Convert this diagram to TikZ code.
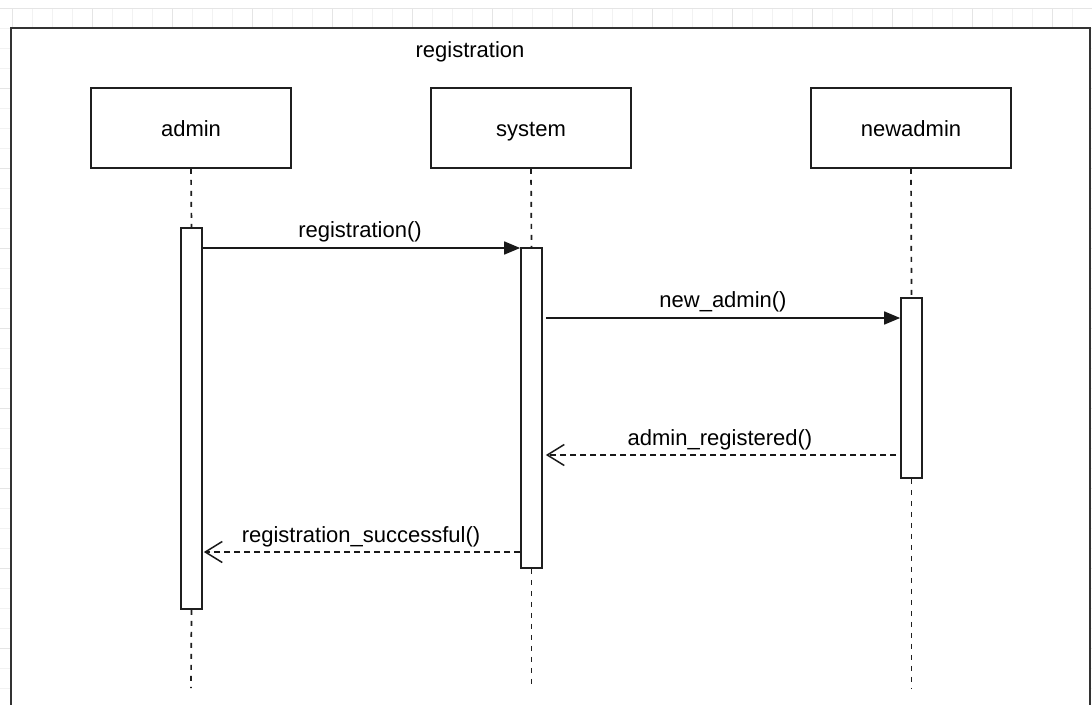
\documentclass[tikz,border=0pt]{standalone}
\usepackage{fontspec}
\setmainfont{Liberation Sans}
\usetikzlibrary{arrows.meta}
\begin{document}
\begin{tikzpicture}[x=1pt,y=-1pt,
  lifebox/.style={draw=black!88,line width=1.8pt,fill=white,minimum width=200pt,minimum height=80pt,inner sep=0pt,text height=19pt,text depth=3pt,font=\fontsize{22}{26}\selectfont},
  actbar/.style={draw=black!88,line width=1.7pt,fill=white,minimum width=21pt,inner sep=0pt},
  lifeline/.style={draw=black!88,line width=1.7pt,dash pattern=on 5pt off 6pt},
  callmsg/.style={draw=black!90,line width=1.6pt,-{Triangle[length=16pt,width=13pt]}},
  retmsg/.style={draw=black!90,line width=1.5pt,dash pattern=on 6pt off 4pt,-{Straight Barb[length=17pt,width=21pt,line width=1.5pt]}},
  msglabel/.style={anchor=base,inner sep=0pt,font=\fontsize{22}{26}\selectfont},
  minorgrid/.style={draw=black!5,line width=0.8pt},
  majorgrid/.style={draw=black!10,line width=0.8pt}]
\useasboundingbox (0,0) rectangle (1092,704);
% background grid
\foreach \k in {0,...,34}{\draw[minorgrid] (0,8+20*\k) -- (1092,8+20*\k);}
\foreach \k in {0,...,54}{\draw[minorgrid] (12+20*\k,8) -- (12+20*\k,704);}
\foreach \k in {0,...,8}{\draw[majorgrid] (0,8+80*\k) -- (1092,8+80*\k);}
\foreach \k in {0,...,13}{\draw[majorgrid] (12+80*\k,8) -- (12+80*\k,704);}
% frame
\draw[draw=black!80,line width=1.8pt,fill=white] (11,28) rectangle (1090,712);
\node[inner sep=0pt,anchor=base,font=\fontsize{22}{26}\selectfont] (title) at (470,57) {registration};
% lifeline heads
\node[lifebox] (admin) at (191,128) {admin};
\node[lifebox] (system) at (531,128) {system};
\node[lifebox] (newadmin) at (911,128) {newadmin};
% end points of lifelines
\coordinate (aend) at (191,688);
\coordinate (send) at (531.5,688);
\coordinate (nend) at (911.5,688);
% activation bars (geometry)
\path (191.5,418.5) node[actbar,minimum height=381pt] (aact) {};
\path (531.5,408) node[actbar,minimum height=320pt] (sact) {};
\path (911.5,388) node[actbar,minimum height=180pt] (nact) {};
% lifelines
\draw[lifeline] (admin.south) -- (aact.north);
\draw[lifeline] (aact.south) -- (aend);
\draw[lifeline] (system.south) -- (sact.north);
\draw[lifeline] (sact.south) -- (send);
\draw[lifeline] (newadmin.south) -- (nact.north);
\draw[lifeline] (nact.south) -- (nend);
% redraw bars on top
\path (191.5,418.5) node[actbar,minimum height=381pt] {};
\path (531.5,408) node[actbar,minimum height=320pt] {};
\path (911.5,388) node[actbar,minimum height=180pt] {};
% message levels
\coordinate (y1) at (0,248);
\coordinate (y2) at (0,318);
\coordinate (y3) at (0,455);
\coordinate (y4) at (0,552);
% messages
\draw[callmsg] (aact.east |- y1) -- (sact.west |- y1);
\node[msglabel] (l1) at (360,237) {registration()};
\draw[callmsg] ([xshift=3pt]sact.east |- y2) -- (nact.west |- y2);
\node[msglabel] (l2) at (723,307) {new\_admin()};
\draw[retmsg] ([xshift=-4pt]nact.west |- y3) -- ([xshift=3pt]sact.east |- y3);
\node[msglabel] (l3) at (720,445) {admin\_registered()};
\draw[retmsg] (sact.west |- y4) -- ([xshift=1pt]aact.east |- y4);
\node[msglabel] (l4) at (361,542) {registration\_successful()};
\end{tikzpicture}
\end{document}
